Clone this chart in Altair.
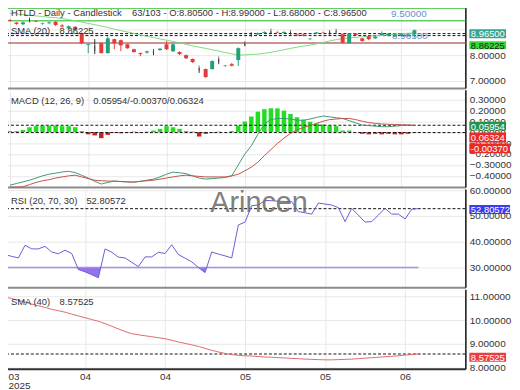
import altair as alt
import pandas as pd
import numpy as np

# ---------------- data ----------------
idx = list(range(63))
opens = [9.36, 9.26, 9.20, 9.36, 9.33, 9.22, 9.24, 9.29, 9.15, 9.04,
         9.10, 8.85, 8.40, 8.26, 8.46, 8.08, 8.62, 8.58, 8.42, 8.23,
         8.08, 8.10, 8.15, 8.20, 8.42, 8.15, 8.12, 8.00, 7.85, 7.50,
         7.46, 7.46, 7.85, 7.58, 7.65, 7.81, 8.44, 8.80, 8.80, 8.86,
         8.93, 8.90, 8.86, 8.88, 8.80, 8.80, 8.62, 8.84, 8.89, 8.88,
         8.93, 8.81, 8.46, 8.84, 8.65, 8.73, 8.65, 8.78, 8.75, 8.72,
         8.74, 8.76, 8.805]
highs = [9.40, 9.28, 9.30, 9.42, 9.36, 9.26, 9.30, 9.32, 9.20, 9.15,
         9.12, 8.88, 8.44, 8.62, 8.50, 8.73, 8.64, 8.60, 8.44, 8.25,
         8.10, 8.17, 8.18, 8.27, 8.54, 8.45, 8.15, 8.02, 7.87, 7.50,
         7.48, 7.80, 7.85, 7.62, 7.70, 8.30, 8.44, 8.86, 8.88, 8.92,
         8.93, 8.92, 8.92, 8.90, 8.83, 8.82, 8.66, 8.90, 8.91, 8.92,
         8.93, 8.83, 8.86, 8.86, 8.67, 8.75, 8.75, 8.92, 8.86, 8.82,
         8.85, 8.84, 8.99]
lows = [9.31, 9.18, 9.16, 9.30, 9.28, 9.18, 9.20, 9.13, 9.06, 9.02,
        8.95, 8.42, 8.08, 8.04, 8.06, 8.06, 8.23, 8.15, 8.25, 8.10,
        7.96, 8.06, 8.00, 8.16, 8.20, 8.12, 8.00, 7.85, 7.70, 7.31,
        7.12, 7.44, 7.65, 7.55, 7.56, 7.58, 8.36, 8.76, 8.78, 8.84,
        8.85, 8.86, 8.84, 8.84, 8.73, 8.73, 8.58, 8.82, 8.86, 8.85,
        8.88, 8.46, 8.44, 8.76, 8.52, 8.58, 8.63, 8.76, 8.73, 8.70,
        8.72, 8.70, 8.68]
closes = [9.33, 9.21, 9.27, 9.36, 9.31, 9.24, 9.27, 9.17, 9.11, 9.12,
          8.98, 8.46, 8.43, 8.26, 8.08, 8.65, 8.46, 8.38, 8.27, 8.12,
          8.04, 8.15, 8.15, 8.25, 8.23, 8.42, 8.04, 7.88, 7.73, 7.50,
          7.15, 7.77, 7.85, 7.60, 7.59, 8.27, 8.44, 8.80, 8.85, 8.90,
          8.93, 8.88, 8.90, 8.88, 8.77, 8.75, 8.64, 8.88, 8.88, 8.88,
          8.93, 8.48, 8.84, 8.78, 8.55, 8.62, 8.72, 8.85, 8.84, 8.80,
          8.82, 8.80, 8.965]
sma20 = [9.62, 9.60, 9.57, 9.55, 9.52, 9.50, 9.47, 9.45, 9.42, 9.38,
         9.33, 9.28, 9.23, 9.18, 9.13, 9.07, 9.01, 8.95, 8.90, 8.84,
         8.78, 8.73, 8.68, 8.63, 8.58, 8.53, 8.48, 8.42, 8.36, 8.31,
         8.26, 8.21, 8.16, 8.10, 8.05, 8.00, 8.01, 8.03, 8.04, 8.07,
         8.11, 8.16, 8.21, 8.26, 8.31, 8.35, 8.39, 8.44, 8.49, 8.55,
         8.60, 8.64, 8.67, 8.69, 8.71, 8.73, 8.75, 8.77, 8.79, 8.81,
         8.83, 8.85, 8.862]
price_band = [9.82, 9.33]          # green horizontal lines
price_level = 8.47                 # brown horizontal line
price_dotted = [8.835, 8.758]

macd_hist = [0.01, 0.01, 0.02, 0.045, 0.055, 0.06, 0.06, 0.06, 0.055, 0.055,
             0.045, 0.01, -0.02, -0.03, -0.055, -0.025, -0.005, -0.01, -0.005, 0.005,
             -0.005, 0.005, 0.015, 0.03, 0.055, 0.045, 0.03, 0.01, 0.005, -0.04,
             -0.015, -0.005, 0.005, 0.0, 0.01, 0.06, 0.097, 0.143, 0.188, 0.21,
             0.218, 0.218, 0.197, 0.167, 0.136, 0.115, 0.095, 0.08, 0.07, 0.06,
             0.055, 0.015, 0.015, 0.0, -0.015, -0.02, -0.015, -0.02, -0.015, -0.02,
             -0.02, -0.015, -0.0037]
macd_line = [-0.485, -0.47, -0.455, -0.44, -0.42, -0.40, -0.385, -0.375, -0.365, -0.358,
             -0.37, -0.395, -0.42, -0.45, -0.475, -0.46, -0.448, -0.452, -0.455, -0.457,
             -0.45, -0.44, -0.43, -0.41, -0.385, -0.366, -0.372, -0.38, -0.40, -0.42,
             -0.43, -0.425, -0.42, -0.415, -0.40, -0.30, -0.20, -0.125, -0.02, 0.075,
             0.115, 0.125, 0.125, 0.12, 0.11, 0.108, 0.12, 0.135, 0.148, 0.14,
             0.132, 0.125, 0.105, 0.085, 0.065, 0.06, 0.055, 0.05, 0.05, 0.055,
             0.06, 0.065, 0.0595]
signal_line = [-0.503, -0.503, -0.50, -0.48, -0.46, -0.445, -0.435, -0.42, -0.41, -0.40,
               -0.394, -0.41, -0.425, -0.44, -0.445, -0.448, -0.448, -0.452, -0.455, -0.457,
               -0.45, -0.445, -0.44, -0.43, -0.42, -0.41, -0.40, -0.394, -0.40, -0.405,
               -0.41, -0.41, -0.41, -0.41, -0.40, -0.385, -0.355, -0.32, -0.275, -0.215,
               -0.16, -0.103, -0.055, -0.012, 0.02, 0.043, 0.06, 0.08, 0.10, 0.115,
               0.12, 0.125, 0.125, 0.115, 0.10, 0.088, 0.08, 0.075, 0.072, 0.07,
               0.068, 0.065, 0.06324]
macd_dotted = [0.06324, -0.0037]

rsi = [35.0, 34.3, 33.7, 38.6, 37.2, 37.2, 38.2, 36.0, 35.3, 36.7,
       35.4, 29.2, 28.3, 27.2, 26.0, 37.2, 35.9, 34.0, 33.7, 32.0,
       30.3, 34.1, 34.1, 35.9, 35.4, 38.8, 35.0, 33.6, 32.2, 30.0,
       28.0, 36.0, 35.2, 34.5, 33.7, 46.5, 47.6, 54.0, 54.2, 56.0,
       55.9, 55.7, 55.6, 55.5, 51.7, 51.2, 50.7, 55.0, 54.6, 54.2,
       53.2, 47.8, 52.9, 50.3, 47.6, 47.8, 50.3, 52.9, 50.7, 50.7,
       48.8, 52.6, 52.80572]
rsi_low = 30

sma40 = [10.97, 10.90, 10.83, 10.75, 10.67, 10.60, 10.53, 10.45, 10.39, 10.33,
         10.25, 10.17, 10.10, 10.02, 9.95, 9.85, 9.74, 9.63, 9.52, 9.43,
         9.38, 9.34, 9.30, 9.26, 9.22, 9.15, 9.08, 9.02, 8.96, 8.89,
         8.81, 8.73, 8.66, 8.60, 8.55, 8.52, 8.50, 8.49, 8.47, 8.45,
         8.44, 8.42, 8.41, 8.39, 8.38, 8.36, 8.35, 8.34, 8.33, 8.33,
         8.34, 8.35, 8.36, 8.38, 8.40, 8.42, 8.44, 8.46, 8.48, 8.50,
         8.53, 8.55, 8.57525]

tick_idx = [0, 12, 24, 36, 48, 60]
tick_labels = ["03", "04", "04", "05", "05", "06"]
year_label = "2025"

# ---------------- frames ----------------
UP, DOWN, DOJI = "#22a07a", "#e33b3b", "#333333"
df = pd.DataFrame({"i": idx, "open": opens, "high": highs, "low": lows, "close": closes,
                   "sma20": sma20, "hist": macd_hist, "macd": macd_line,
                   "signal": signal_line, "rsi": rsi, "sma40": sma40})
df["ccol"] = np.where(df["close"] > df["open"], UP,
                      np.where(df["close"] < df["open"], DOWN, DOJI))
df["doji"] = df["close"] == df["open"]
df["hcol"] = np.where(df["hist"] >= 0, "#22dd22", "#cc2020")

# polygon of the RSI part below the 30 line (with crossing points)
fx, fy = [], []
r = np.array(rsi)
for k in range(len(r)):
    if k > 0 and (r[k - 1] - rsi_low) * (r[k] - rsi_low) < 0:
        t = (rsi_low - r[k - 1]) / (r[k] - r[k - 1])
        fx.append(k - 1 + t)
        fy.append(rsi_low)
    fx.append(k)
    fy.append(min(r[k], rsi_low))
fill_df = pd.DataFrame({"i": fx, "v": fy})

FONT = "Liberation Sans"
W = 467
xs = alt.Scale(domain=[-0.45, 69.05], nice=False, zero=False)

expr = "''"
for v, lab in reversed(list(zip(tick_idx, tick_labels))):
    val = f"['{lab}','{year_label}']" if v == tick_idx[0] else f"'{lab}'"
    expr = f"datum.value == {v} ? {val} : ({expr})"


def xenc(bottom=False):
    if bottom:
        ax = alt.Axis(values=tick_idx, labelExpr=expr, ticks=False, tickSize=0,
                      domain=True, domainColor="#333", domainWidth=2, grid=True,
                      labelPadding=3, labelFlush=5, labelFlushOffset=-3,
                      labelLineHeight=9, title=None)
    else:
        ax = alt.Axis(values=tick_idx, labels=False, ticks=False, tickSize=0,
                      domain=True, domainColor="#8c8c8c", domainWidth=2, grid=True,
                      title=None)
    return alt.X("i:Q", scale=xs, axis=ax)


def yaxis(values, hide=None):
    kw = {}
    if hide is not None:
        kw["labelExpr"] = f"datum.value == {hide} ? '' : format(datum.value, '.5f')"
    return alt.Axis(orient="right", values=values, format=".5f", ticks=False, tickSize=0,
                    labelPadding=4, domain=True, domainColor="#111", domainWidth=1.5,
                    grid=True, title=None, **kw)


def text_at(txt, x, y, size=9.5, color="#333", align="left", **kw):
    return alt.Chart(pd.DataFrame({"t": [txt]})).mark_text(
        align=align, baseline="middle", fontSize=size, color=color, font=FONT, **kw
    ).encode(x=alt.value(x), y=alt.value(y), text="t:N")


def box(txt, y1, y2, fill, color="white", x1=471, x2=508):
    d = alt.Chart(pd.DataFrame({"t": [txt]}))
    rect = d.mark_rect(fill=fill).encode(x=alt.value(x1), x2=alt.value(x2),
                                         y=alt.value(y1), y2=alt.value(y2))
    t = d.mark_text(align="left", baseline="middle", fontSize=9.5, color=color,
                    font=FONT).encode(x=alt.value(x1 + 1.5), y=alt.value((y1 + y2) / 2 + 0.5),
                                      text="t:N")
    return rect + t


def hrules(vals, ysc, yax, **kw):
    return alt.Chart(pd.DataFrame({"v": vals})).mark_rule(**kw).encode(
        y=alt.Y("v:Q", scale=ysc, axis=yax))


# ---------------- panel 1: price ----------------
ys1 = alt.Scale(domain=[6.73, 10.077], nice=False, zero=False)
ya1 = yaxis([7, 8, 9, 10], hide=9)
base1 = alt.Chart(df)
wicks = base1.mark_rule(strokeWidth=1).encode(
    x=xenc(), y=alt.Y("low:Q", scale=ys1, axis=ya1), y2="high:Q",
    color=alt.Color("ccol:N", scale=None))
bodies = base1.mark_bar(size=4).encode(
    x=xenc(), y=alt.Y("open:Q", scale=ys1, axis=ya1), y2="close:Q",
    color=alt.Color("ccol:N", scale=None))
dojis = base1.transform_filter("datum.doji").mark_tick(thickness=1, size=5).encode(
    x=xenc(), y=alt.Y("close:Q", scale=ys1, axis=ya1),
    color=alt.Color("ccol:N", scale=None))
sma_line = base1.mark_line(color="#7fdc7f", strokeWidth=1).encode(
    x=xenc(), y=alt.Y("sma20:Q", scale=ys1, axis=ya1))
p1 = alt.layer(
    hrules(price_band, ys1, ya1, color="#66cc66", strokeWidth=1.5),
    hrules([price_level], ys1, ya1, color="#b87070", strokeWidth=1.5),
    hrules(price_dotted, ys1, ya1, color="#111", strokeDash=[3, 2], strokeWidth=1),
    text_at("8.96500", 393, 35, size=10, color="#6a8fd8"),
    sma_line, wicks, bodies, dojis,
    text_at("HTLD - Daily - Candlestick", 9, 12),
    text_at("63/103 - O:8.80500 - H:8.99000 - L:8.68000 - C:8.96500", 131, 12),
    text_at("9.50000", 392, 13, size=10, color="#6a8fd8"),
    text_at("SMA (20)", 9, 30),
    text_at("8.86225", 58, 30),
    box("8.96500", 28, 37, "#38a58e"),
    box("8.86225", 40, 48, "#3ad83a", color="#1a1a1a"),
).properties(width=W, height=87)

# ---------------- panel 2: MACD ----------------
ys2 = alt.Scale(domain=[-0.503, 0.387], nice=False, zero=False)
ya2 = yaxis([0.3, 0.2, 0.1, 0.0, -0.1, -0.2, -0.3, -0.4])
base2 = alt.Chart(df)
hbars = base2.mark_bar(size=4.5).encode(
    x=xenc(), y=alt.Y("hist:Q", scale=ys2, axis=ya2), y2=alt.datum(0),
    color=alt.Color("hcol:N", scale=None))
mline = base2.mark_line(color="#3f9a72", strokeWidth=1).encode(
    x=xenc(), y=alt.Y("macd:Q", scale=ys2, axis=ya2))
sline = base2.mark_line(color="#c9504a", strokeWidth=1).encode(
    x=xenc(), y=alt.Y("signal:Q", scale=ys2, axis=ya2))
p2 = alt.layer(
    hbars,
    hrules(macd_dotted, ys2, ya2, color="#111", strokeDash=[3, 2], strokeWidth=1),
    mline, sline,
    text_at("MACD (12, 26, 9)", 9, 11),
    text_at("0.05954/-0.00370/0.06324", 92, 11),
    box("0.05954", 32, 41, "#23954a"),
    box("0.06324", 43, 53, "#ee2a24"),
    box("-0.00370", 54, 64, "#ee2a24", x2=512),
).properties(width=W, height=98)

# ---------------- panel 3: RSI ----------------
ys3 = alt.Scale(domain=[22.3, 60.4], nice=False, zero=False)
ya3 = yaxis([60, 50, 40, 30])
base3 = alt.Chart(df)
rfill = alt.Chart(fill_df).mark_area(color="#8a63e8", opacity=0.9).encode(
    x=xenc(), y=alt.Y("v:Q", scale=ys3, axis=ya3), y2=alt.datum(rsi_low))
r30 = base3.mark_line(color="#a98cf0", strokeWidth=1.5).encode(
    x=xenc(), y=alt.Y(datum=rsi_low, scale=ys3, axis=ya3))
rline = base3.mark_line(color="#6b5dd6", strokeWidth=1).encode(
    x=xenc(), y=alt.Y("rsi:Q", scale=ys3, axis=ya3))
p3 = alt.layer(
    rfill, r30,
    hrules([rsi[-1]], ys3, ya3, color="#111", strokeDash=[3, 2], strokeWidth=1),
    rline,
    text_at("Arincen", 259, 14, size=29, color="#6a6a6a", align="center", opacity=0.85),
    text_at("RSI (20, 70, 30)", 9, 12),
    text_at("52.80572", 85, 12),
    box("52.80572", 16, 25, "#3b3bef", x2=512),
).properties(width=W, height=99)

# ---------------- panel 4: SMA 40 ----------------
ys4 = alt.Scale(domain=[7.96, 11.29], nice=False, zero=False)
ya4 = yaxis([11, 10, 9, 8])
base4 = alt.Chart(df)
s40 = base4.mark_line(color="#e06a6a", strokeWidth=1).encode(
    x=xenc(True), y=alt.Y("sma40:Q", scale=ys4, axis=ya4))
p4 = alt.layer(
    hrules([sma40[-1]], ys4, ya4, color="#111", strokeDash=[3, 2], strokeWidth=1),
    s40,
    text_at("SMA (40)", 9, 13),
    text_at("8.57525", 58, 13),
    box("8.57525", 64, 73, "#e84040"),
).properties(width=W, height=80)

chart = alt.vconcat(p1, p2, p3, p4, spacing=2, bounds="flush").properties(
    padding={"left": -8, "top": -12, "right": 0, "bottom": 0}
).configure_view(stroke="transparent").configure_axis(
    labelFont=FONT, labelFontSize=10, labelColor="#333", gridColor="#e8e8e8", gridWidth=1
)

chart.save("out.html", embed_options={"renderer": "svg", "actions": False})
